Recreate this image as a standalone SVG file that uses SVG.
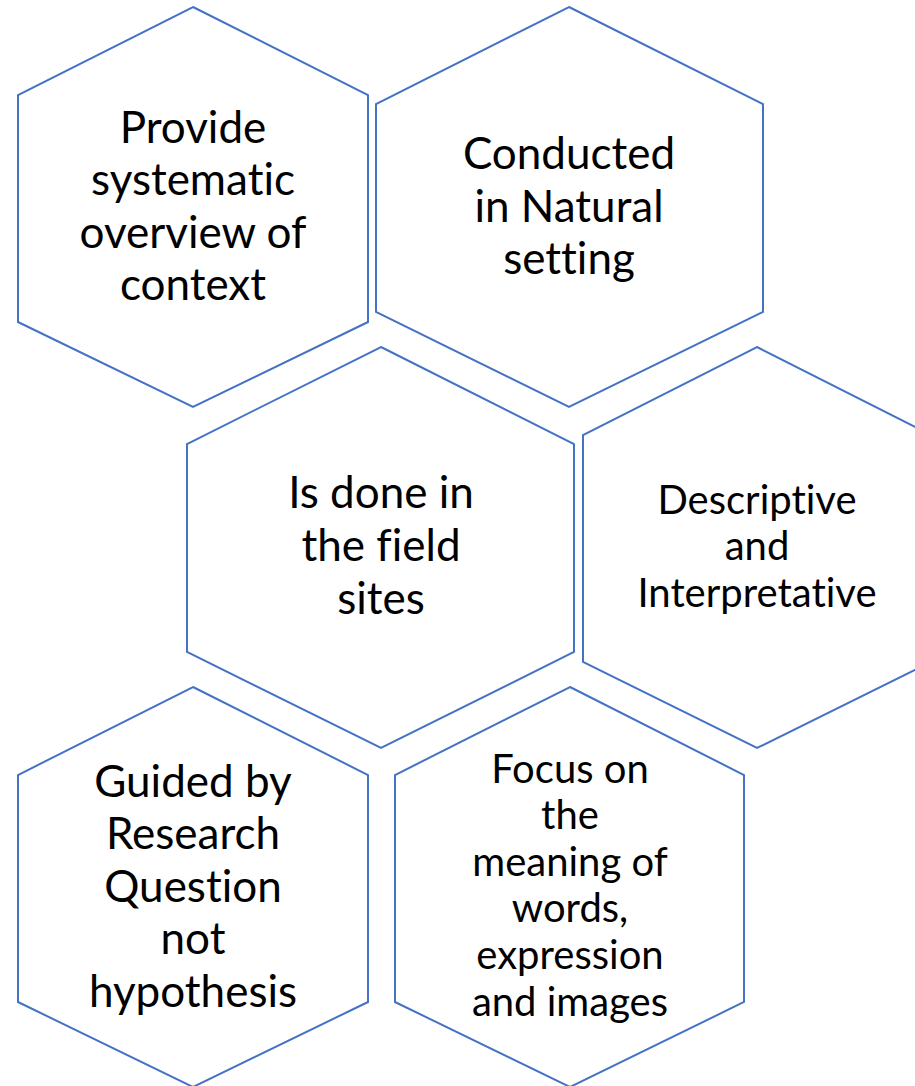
<svg xmlns="http://www.w3.org/2000/svg" width="915" height="1086" viewBox="0 0 915 1086">
  <style>
    .hex { fill: #ffffff; stroke: #4472C4; stroke-width: 2; stroke-linejoin: miter; }
    .lbl { font-family: Lato, "Open Sans", sans-serif; fill: #000000; text-anchor: middle; font-variant-ligatures: none; }
    .big { font-size: 44px; }
    .small { font-size: 40px; }
  </style>
  <rect width="915" height="1086" fill="#ffffff"/>
  <g id="connectors"/>

  <g id="hex-overview">
    <polygon class="hex" points="193,7 368,95 368,322 193,407 18,322 18,95"/>
    <text class="lbl big" x="193" y="143">Provide</text>
    <text class="lbl big" x="193" y="195">systematic</text>
    <text class="lbl big" x="193" y="248">overview of</text>
    <text class="lbl big" x="193" y="300">context</text>
  </g>

  <g id="hex-natural">
    <polygon class="hex" points="569,7 763,104 763,312 569,407 376,312 376,104"/>
    <text class="lbl big" x="569" y="169">Conducted</text>
    <text class="lbl big" x="569" y="222">in Natural</text>
    <text class="lbl big" x="569" y="274">setting</text>
  </g>

  <g id="hex-field">
    <polygon class="hex" points="381,347 574,444 574,652 381,748 187,652 187,444"/>
    <text class="lbl big" x="381" y="508">Is done in</text>
    <text class="lbl big" x="381" y="561">the field</text>
    <text class="lbl big" x="381" y="614">sites</text>
  </g>

  <g id="hex-descriptive">
    <polygon class="hex" points="757,347 931,435 931,662 757,748 583,662 583,435"/>
    <text class="lbl small" x="757" y="514">Descriptive</text>
    <text class="lbl small" x="757" y="560">and</text>
    <text class="lbl small" x="757" y="607">Interpretative</text>
  </g>

  <g id="hex-guided">
    <polygon class="hex" points="193,687 368,775 368,1002 193,1087 18,1002 18,775"/>
    <text class="lbl big" x="193" y="797">Guided by</text>
    <text class="lbl big" x="193" y="849">Research</text>
    <text class="lbl big" x="193" y="902">Question</text>
    <text class="lbl big" x="193" y="954">not</text>
    <text class="lbl big" x="193" y="1007">hypothesis</text>
  </g>

  <g id="hex-meaning">
    <polygon class="hex" points="570,687 744,775 744,1002 570,1087 395,1002 395,775"/>
    <text class="lbl small" x="570" y="783">Focus on</text>
    <text class="lbl small" x="570" y="829">the</text>
    <text class="lbl small" x="570" y="876">meaning of</text>
    <text class="lbl small" x="570" y="922">words,</text>
    <text class="lbl small" x="570" y="969">expression</text>
    <text class="lbl small" x="570" y="1016">and images</text>
  </g>
</svg>
